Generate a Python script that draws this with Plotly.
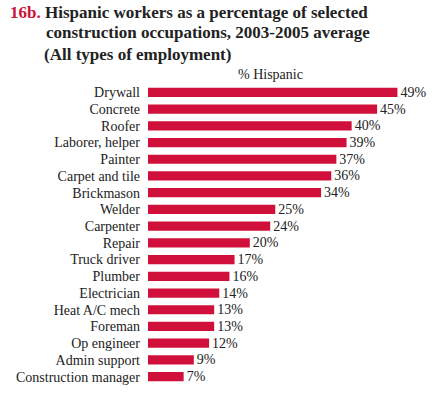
import plotly.graph_objects as go

categories = ["Drywall", "Concrete", "Roofer", "Laborer, helper", "Painter", "Carpet and tile",
              "Brickmason", "Welder", "Carpenter", "Repair", "Truck driver", "Plumber",
              "Electrician", "Heat A/C mech", "Foreman", "Op engineer", "Admin support",
              "Construction manager"]
values = [49, 45, 40, 39, 37, 36, 34, 25, 24, 20, 17, 16, 14, 13, 13, 12, 9, 7]
labels = [f"{v}%" for v in values]

RED = "#D0103A"
SERIF = "Liberation Serif"
W, H = 435, 398
ML, MR, MT, MB = 148, 7, 84, 13
PW = W - ML - MR
PH = H - MT - MB


def px(x):
    return (x - ML) / PW


def py(y):
    return (H - MB - y) / PH


fig = go.Figure(go.Bar(
    x=values, y=categories, orientation="h",
    marker=dict(color=RED, line=dict(width=0)),
    text=labels, textposition="outside", cliponaxis=False,
    constraintext="none",
    textfont=dict(family=SERIF, size=14, color="#222"),
))

title_font = dict(family=SERIF, size=17, color="#222")
fig.update_layout(
    width=W, height=H,
    margin=dict(l=ML, r=MR, t=MT, b=MB, autoexpand=False),
    paper_bgcolor="white", plot_bgcolor="white",
    bargap=0.45, showlegend=False,
    uniformtext=dict(minsize=14, mode="show"),
    xaxis=dict(range=[0, 55], visible=False, fixedrange=True, automargin=False),
    yaxis=dict(autorange="reversed", showgrid=False, showline=False, zeroline=False,
               ticks="", ticklabelstandoff=7, tickmode="array", tickvals=categories,
               ticktext=categories, automargin=False,
               tickfont=dict(family=SERIF, size=14, color="#222")),
    font=dict(family=SERIF),
    annotations=[
        dict(text="<b>16b.</b>", x=px(8), y=py(13), xref="paper", yref="paper", showarrow=False,
             xanchor="left", yanchor="middle", font=dict(family=SERIF, size=17, color=RED)),
        dict(text="<b>Hispanic workers as a percentage of selected</b>", x=px(43), y=py(13),
             xref="paper", yref="paper", showarrow=False, xanchor="left", yanchor="middle",
             font=title_font),
        dict(text="<b>construction occupations, 2003-2005 average</b>", x=px(44), y=py(33),
             xref="paper", yref="paper", showarrow=False, xanchor="left", yanchor="middle",
             font=title_font),
        dict(text="<b>(All types of employment)</b>", x=px(42), y=py(54),
             xref="paper", yref="paper", showarrow=False, xanchor="left", yanchor="middle",
             font=title_font),
        dict(text="% Hispanic", x=px(270), y=py(74), xref="paper", yref="paper",
             showarrow=False, xanchor="center", yanchor="middle",
             font=dict(family=SERIF, size=14, color="#222")),
    ],
)

fig.write_html("out.html", config={"displayModeBar": False},
               post_script="document.body.style.margin='0';document.body.style.padding='0';")
